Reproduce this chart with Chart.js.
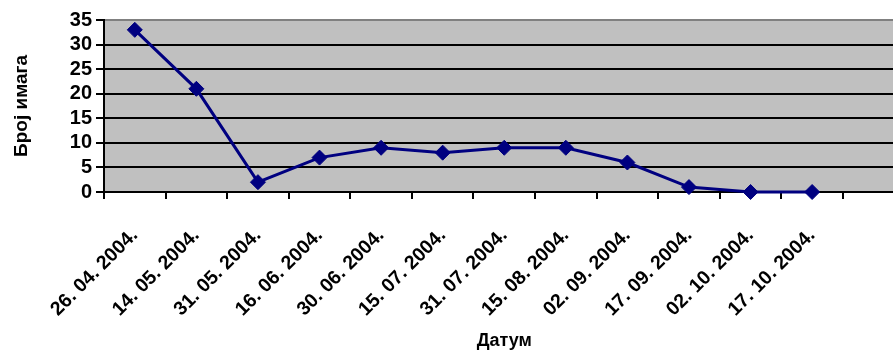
<!DOCTYPE html>
<html>
<head>
<meta charset="utf-8">
<script src="https://cdn.jsdelivr.net/npm/chart.js@4"></script>
<style>
  html, body { margin: 0; padding: 0; background: #fff; overflow: hidden; }
  #view { width: 893px; height: 350px; overflow: hidden; position: relative; }
  #box { width: 913px; height: 350px; position: absolute; left: 0; top: 0; }
</style>
</head>
<body>
<div id="view"><div id="box"><canvas id="c"></canvas></div></div>
<script>
// Survey dates (category axis); one trailing empty slot keeps the axis running on
const dates = [
  '26. 04. 2004.', '14. 05. 2004.', '31. 05. 2004.', '16. 06. 2004.',
  '30. 06. 2004.', '15. 07. 2004.', '31. 07. 2004.', '15. 08. 2004.',
  '02. 09. 2004.', '17. 09. 2004.', '02. 10. 2004.', '17. 10. 2004.'
];
const trailingSlot = [''];
// Number of imagos counted on each date
const imagoCounts = [33, 21, 2, 7, 9, 8, 9, 9, 6, 1, 0, 0];
// Y axis range and step
const yMin = 0, yMax = 35, yStep = 5;

const FONT = "'Liberation Sans', Arial, Helvetica, sans-serif";

// Grey fill behind the plotting area
const plotBackground = {
  id: 'plotBackground',
  beforeDraw(chart) {
    const { ctx, chartArea: a } = chart;
    ctx.save();
    ctx.fillStyle = '#C0C0C0';
    ctx.fillRect(a.left, a.top, a.right - a.left, a.bottom - a.top);
    ctx.restore();
  }
};

new Chart(document.getElementById('c'), {
  type: 'line',
  data: {
    labels: dates.concat(trailingSlot),
    datasets: [{
      data: imagoCounts,
      borderColor: '#000080',
      backgroundColor: '#000080',
      borderWidth: 3,
      pointStyle: 'rectRot',
      pointRadius: 7.5,
      pointHoverRadius: 7.5,
      pointBackgroundColor: '#000080',
      pointBorderColor: '#000080',
      pointBorderWidth: 1,
      tension: 0,
      fill: false,
      clip: false
    }]
  },
  options: {
    responsive: true,
    maintainAspectRatio: false,
    devicePixelRatio: 1,
    animation: false,
    events: [],
    layout: { padding: { top: 20, right: 0, left: 0, bottom: 0 } },
    plugins: {
      legend: { display: false },
      tooltip: { enabled: false },
      title: { display: false }
    },
    scales: {
      x: {
        type: 'category',
        offset: true,
        afterFit(scale) {
          scale.height = 158;
          // the last slot is empty, so no room is kept for its label
          scale.paddingRight = 0;
        },
        grid: {
          offset: true,
          drawOnChartArea: false,
          drawTicks: true,
          tickLength: 7,
          color: '#000',
          tickColor: '#000',
          lineWidth: 2
        },
        border: { display: true, color: '#000', width: 2 },
        ticks: {
          autoSkip: false,
          minRotation: 45,
          maxRotation: 45,
          padding: 25,
          color: '#000',
          font: { family: FONT, size: 19.5, weight: 'bold' }
        },
        title: {
          display: true,
          text: 'Датум',
          color: '#000',
          padding: { top: 0, bottom: 0 },
          font: { family: FONT, size: 18, weight: 'bold', lineHeight: 1 }
        }
      },
      y: {
        min: yMin,
        max: yMax,
        afterFit(scale) { scale.width = 104; },
        grid: {
          drawTicks: true,
          tickLength: 8,
          lineWidth: 2,
          color: (c) => (c.tick && c.tick.value === yMax ? '#808080' : '#000'),
          tickColor: '#000'
        },
        border: { display: true, color: '#000', width: 2 },
        ticks: {
          autoSkip: false,
          stepSize: yStep,
          padding: 4,
          color: '#000',
          font: { family: FONT, size: 20, weight: 'bold' }
        },
        title: {
          display: true,
          text: 'Број имага',
          color: '#000',
          padding: { top: 10, bottom: 0 },
          font: { family: FONT, size: 19, weight: 'bold', lineHeight: 1.2 }
        }
      }
    }
  },
  plugins: [plotBackground]
});
</script>
</body>
</html>
